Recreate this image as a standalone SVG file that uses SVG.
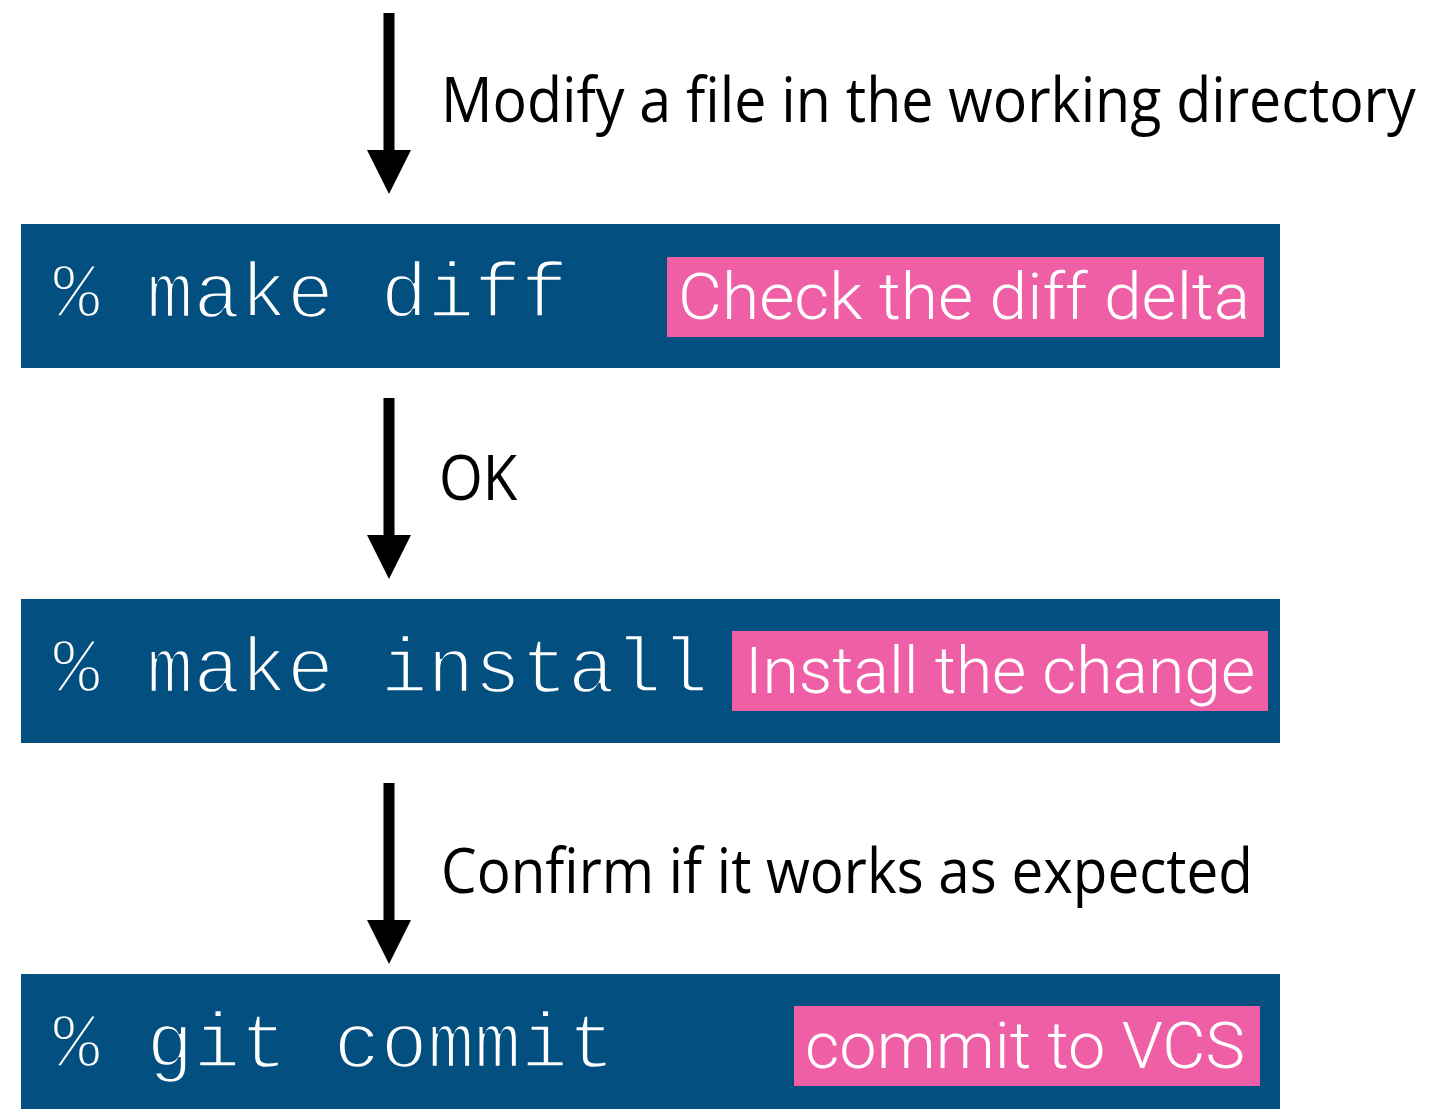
<svg xmlns="http://www.w3.org/2000/svg" width="1430" height="1109" viewBox="0 0 1430 1109">
<style>
.box{fill:#024f80}
.tag{fill:#ef5fa6}
.cmd{font-family:"Liberation Mono","Courier New",monospace;font-size:78px;fill:#ffffff;stroke:#024f80;stroke-width:2.5px}
.tagt{font-family:Roboto,"Liberation Sans",Arial,sans-serif;font-weight:300;font-size:64px;fill:#ffffff}
.lbl{font-family:"Open Sans","Noto Sans",sans-serif;font-size:62px;fill:#000000}
.conn{stroke:#000000;stroke-width:11;fill:none}
</style>
<defs>
<marker id="ah" viewBox="0 -22 44 44" refX="0" refY="0" markerWidth="44" markerHeight="44" markerUnits="userSpaceOnUse" orient="auto">
<path d="M0,-22 L44,0 L0,22 z" fill="#000000"/>
</marker>
</defs>
<rect width="1430" height="1109" fill="#ffffff"/>
<g id="connectors">
<line class="conn" x1="389" y1="13" x2="389" y2="150" marker-end="url(#ah)"/>
<line class="conn" x1="389" y1="398" x2="389" y2="535" marker-end="url(#ah)"/>
<line class="conn" x1="389" y1="783" x2="389" y2="920" marker-end="url(#ah)"/>
<text class="lbl" transform="translate(441,122) scale(0.9,1)" x="0" y="0" textLength="1083" lengthAdjust="spacingAndGlyphs">Modify a file in the working directory</text>
<text class="lbl" transform="translate(439,500) scale(0.9,1)" x="0" y="0" textLength="87" lengthAdjust="spacingAndGlyphs">OK</text>
<text class="lbl" transform="translate(441,893) scale(0.9,1)" x="0" y="0" textLength="902" lengthAdjust="spacingAndGlyphs">Confirm if it works as expected</text>
</g>
<g id="node-make-diff">
<rect class="box" x="21" y="224" width="1259" height="144"/>
<text class="cmd" x="53" y="317">% make diff</text>
<rect class="tag" x="667" y="257" width="597" height="80"/>
<text class="tagt" x="678" y="319" textLength="572" lengthAdjust="spacingAndGlyphs">Check the diff delta</text>
</g>
<g id="node-make-install">
<rect class="box" x="21" y="599" width="1259" height="144"/>
<text class="cmd" x="53" y="692">% make install</text>
<rect class="tag" x="732" y="631" width="536" height="80"/>
<text class="tagt" x="745" y="693" textLength="510" lengthAdjust="spacingAndGlyphs">Install the change</text>
</g>
<g id="node-git-commit">
<rect class="box" x="21" y="974" width="1259" height="144"/>
<text class="cmd" x="53" y="1067">% git commit</text>
<rect class="tag" x="794" y="1006" width="466" height="80"/>
<text class="tagt" x="805" y="1068" textLength="440" lengthAdjust="spacingAndGlyphs">commit to VCS</text>
</g>
</svg>
